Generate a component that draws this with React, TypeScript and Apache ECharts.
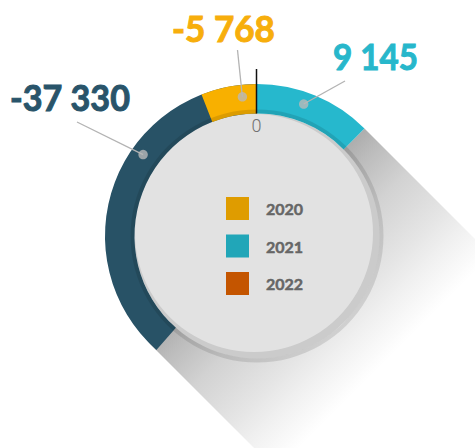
import React, { useEffect, useRef } from 'react';
import * as echarts from 'echarts';

// ---- data ----
const legendYears = ['2020', '2021', '2022'];
const ringSeriesNames = ['2022', '2020', '2021'];
const ringValues = [-37330, -5768, 9145];
const ringLabels = ['-37 330', '-5 768', '9 145'];
const zeroTickLabel = '0';

// ---- styles / layout ----
// angle-axis half ranges (one axis for the losses, one for the gains)
const NEG_HALF_RANGE = 48500;
const POS_HALF_RANGE = 36580;
const CX = 257;
const CY = 236;
const R_OUT = 152;
const R_IN = 122.5;
const ringColors = ['#285266', '#f8b000', '#26b8cd'];
const labelColors = ['#29546a', '#f7ae0c', '#27b7cb'];
const legendColors = ['#df9c00', '#21a6b8', '#c45500'];
const anchorFraction = [0.393, 0.28, 0.433];
const leaderEnd = [
  [77, 122],
  [237.5, 50],
  [345, 81],
];
const labelPos = [
  [10, 97],
  [172, 28],
  [333, 56],
];
const labelWidth = [120, 103, 85];

function measure(font: string, text: string) {
  const c = document.createElement('canvas');
  const ctx = c.getContext('2d');
  if (!ctx) return 0;
  ctx.font = font;
  return ctx.measureText(text).width;
}

// polar 0/1: bars (neg/pos), polar 2/3: anchor dots (neg/pos)
const barPolar = (v: number) => (v < 0 ? 0 : 1);
const dotPolar = (v: number) => (v < 0 ? 2 : 3);

function buildOption(extra: any[]) {
  const t1 = [CX + R_OUT / Math.SQRT2, CY - R_OUT / Math.SQRT2];
  const t2 = [CX - R_OUT / Math.SQRT2, CY + R_OUT / Math.SQRT2];
  const ext = 400;
  const graphic: any[] = [
    {
      type: 'polygon',
      id: 'shadow',
      shape: {
        points: [t1, [t1[0] + ext, t1[1] + ext], [t2[0] + ext, t2[1] + ext], t2],
      },
      style: {
        fill: new echarts.graphic.LinearGradient(
          CX,
          CY,
          CX + 127,
          CY + 127,
          [
            { offset: 0, color: '#adadad' },
            { offset: 0.12, color: '#bcbcbc' },
            { offset: 0.34, color: '#d2d2d2' },
            { offset: 0.62, color: '#e4e4e4' },
            { offset: 0.78, color: '#f0f0f0' },
            { offset: 1, color: '#ffffff' },
          ],
          true
        ),
      },
      z: 0,
      silent: true,
    },
    {
      type: 'circle',
      id: 'rim',
      shape: { cx: CX, cy: CY, r: R_IN },
      style: { fill: '#cbcbcb' },
      z: 1,
      silent: true,
    },
    {
      type: 'circle',
      id: 'face',
      shape: { cx: CX - 3, cy: CY - 3, r: 119 },
      style: { fill: '#e2e2e2' },
      z: 1.5,
      silent: true,
    },
    {
      type: 'ring',
      id: 'band',
      shape: { cx: CX, cy: CY, r: 126.5, r0: R_IN },
      style: { fill: 'rgba(0,0,0,0.11)' },
      z: 3,
      silent: true,
    },
    {
      type: 'line',
      id: 'zeroLine',
      shape: { x1: CX - 0.5, y1: CY - 167, x2: CX - 0.5, y2: CY - R_IN },
      style: { stroke: '#111111', lineWidth: 1.5 },
      z: 5,
      silent: true,
    },
    {
      type: 'text',
      id: 'zeroText',
      x: CX - 0.5,
      y: 125,
      style: {
        text: zeroTickLabel,
        fontSize: 18,
        fontFamily: 'Roboto',
        fontWeight: 300,
        fill: '#707070',
        align: 'center',
        textAlign: 'center',
        verticalAlign: 'middle',
        textVerticalAlign: 'middle',
      },
      z: 5,
      silent: true,
    },
    ...extra,
  ];

  const angleAxis = (half: number, polarIndex: number) => ({
    type: 'value',
    min: -half,
    max: half,
    startAngle: -90,
    clockwise: true,
    show: false,
    polarIndex,
  });
  const radiusAxis = (polarIndex: number) => ({
    type: 'category',
    data: ['ring'],
    show: false,
    polarIndex,
  });

  return {
    animation: false,
    backgroundColor: '#ffffff',
    polar: [
      { center: [CX, CY], radius: [R_IN, R_OUT] },
      { center: [CX, CY], radius: [R_IN, R_OUT] },
      { center: [CX, CY], radius: [128, R_OUT] },
      { center: [CX, CY], radius: [128, R_OUT] },
    ],
    angleAxis: [
      angleAxis(NEG_HALF_RANGE, 0),
      angleAxis(POS_HALF_RANGE, 1),
      angleAxis(NEG_HALF_RANGE, 2),
      angleAxis(POS_HALF_RANGE, 3),
    ],
    radiusAxis: [radiusAxis(0), radiusAxis(1), radiusAxis(2), radiusAxis(3)],
    legend: {
      data: legendYears.map((y, i) => ({ name: y, itemStyle: { color: legendColors[i] } })),
      orient: 'vertical',
      left: 226,
      top: 197,
      padding: 0,
      itemWidth: 23,
      itemHeight: 23,
      itemGap: 14.5,
      icon: 'rect',
      selectedMode: false,
      textStyle: {
        fontFamily: 'Lato',
        fontWeight: 'bold',
        fontSize: 16,
        color: '#666666',
        textBorderColor: '#666666',
        textBorderWidth: 0.5,
        padding: [0, 0, 0, 12],
      },
      z: 6,
    },
    tooltip: { show: false },
    series: [
      ...ringValues.map((v, i) => ({
        type: 'bar',
        name: ringSeriesNames[i],
        coordinateSystem: 'polar',
        polarIndex: barPolar(v),
        data: [v],
        barGap: '-100%',
        barCategoryGap: '0%',
        itemStyle: { color: ringColors[i] },
        z: 2,
        silent: true,
      })),
      ...ringValues.map((v, i) => ({
        type: 'scatter',
        name: 'anchor' + i,
        coordinateSystem: 'polar',
        polarIndex: dotPolar(v),
        data: [[0, v * anchorFraction[i]]],
        symbolSize: 9.5,
        itemStyle: { color: '#b9b9b9' },
        z: 4,
        silent: true,
      })),
    ],
    graphic,
  };
}

export default function App() {
  const ref = useRef<HTMLDivElement>(null);
  useEffect(() => {
    if (!ref.current) return;
    document.body.style.margin = '0';
    const chart = echarts.init(ref.current, null, { renderer: 'svg' });
    chart.setOption(buildOption([]) as any);
    const extra: any[] = [];
    ringValues.forEach((v, i) => {
      const p = chart.convertToPixel({ seriesIndex: ringValues.length + i } as any, [
        0,
        v * anchorFraction[i],
      ]) as any;
      if (p) {
        extra.push({
          type: 'line',
          id: 'leader' + i,
          shape: { x1: leaderEnd[i][0], y1: leaderEnd[i][1], x2: p[0], y2: p[1] },
          style: { stroke: '#b3b3b3', lineWidth: 1.3 },
          z: 3.5,
          silent: true,
        });
      }
      const w = measure('bold 36px Lato', ringLabels[i]);
      const sx = w > 0 ? labelWidth[i] / w : 1;
      extra.push({
        type: 'text',
        id: 'label' + i,
        x: labelPos[i][0],
        y: labelPos[i][1],
        scaleX: sx,
        style: {
          text: ringLabels[i],
          fontSize: 36,
          fontFamily: 'Lato',
          fontWeight: 'bold',
          fill: labelColors[i],
          stroke: labelColors[i],
          lineWidth: 1,
          align: 'left',
          textAlign: 'left',
          verticalAlign: 'middle',
          textVerticalAlign: 'middle',
        },
        z: 5,
        silent: true,
      });
    });
    chart.setOption(buildOption(extra) as any, { notMerge: true });
    return () => chart.dispose();
  }, []);
  return <div ref={ref} style={{ width: 475, height: 448 }} />;
}
